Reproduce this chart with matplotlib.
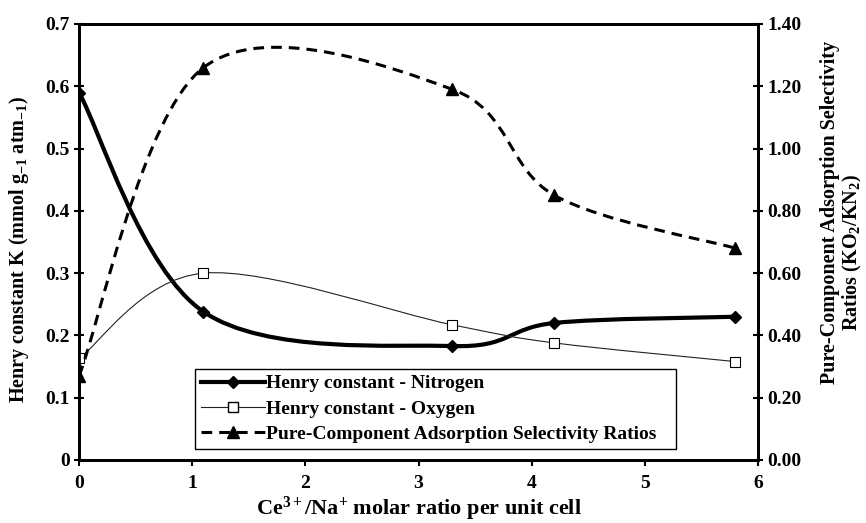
import numpy as np
import matplotlib
matplotlib.use("Agg")
import matplotlib.pyplot as plt
from matplotlib.path import Path
from matplotlib.patches import PathPatch
from matplotlib.lines import Line2D

# ---- data ----
ratio = [0.0, 1.1, 3.3, 4.2, 5.8]
k_nitrogen = [0.59, 0.238, 0.183, 0.220, 0.230]
k_oxygen = [0.163, 0.300, 0.217, 0.188, 0.158]
selectivity = [0.27, 1.26, 1.19, 0.85, 0.68]

left_ticks = [0, 0.1, 0.2, 0.3, 0.4, 0.5, 0.6, 0.7]
right_ticks = [0.0, 0.2, 0.4, 0.6, 0.8, 1.0, 1.2, 1.4]
x_ticks = [0, 1, 2, 3, 4, 5, 6]

plt.rcParams["font.family"] = ["Liberation Serif", "DejaVu Serif"]
plt.rcParams["font.weight"] = "bold"
plt.rcParams["axes.labelweight"] = "bold"
plt.rcParams["mathtext.fontset"] = "custom"
plt.rcParams["mathtext.rm"] = "Liberation Serif:bold"
plt.rcParams["mathtext.it"] = "Liberation Serif:bold"
plt.rcParams["mathtext.bf"] = "Liberation Serif:bold"
plt.rcParams["mathtext.default"] = "rm"


def smooth_patch(ax, x, y, **kw):
    # Excel-like smoothed line: cubic Bezier through the points
    pts = np.column_stack([x, y]).astype(float)
    n = len(pts)
    verts = [tuple(pts[0])]
    codes = [Path.MOVETO]
    for i in range(n - 1):
        p0 = pts[i - 1] if i > 0 else pts[i]
        p1 = pts[i]
        p2 = pts[i + 1]
        p3 = pts[i + 2] if i + 2 < n else pts[i + 1]
        c1 = p1 + (p2 - p0) / 6.0
        c2 = p2 - (p3 - p1) / 6.0
        verts += [tuple(c1), tuple(c2), tuple(p2)]
        codes += [Path.CURVE4] * 3
    patch = PathPatch(Path(verts, codes), fill=False, transform=ax.transData, **kw)
    ax.add_patch(patch)
    return patch


fig = plt.figure(figsize=(8.66, 5.23), dpi=100)
ax = fig.add_axes([79 / 866, 1 - 460 / 523, (758 - 79) / 866, (460 - 24) / 523])
ax2 = ax.twinx()

dash = (0, (3.5, 2.3))
smooth_patch(ax, ratio, k_nitrogen, color="black", lw=3.0, capstyle="round")
ax.plot(ratio, k_nitrogen, "D", color="black", ms=6.5)
smooth_patch(ax, ratio, k_oxygen, color="#222222", lw=0.8)
ax.plot(ratio, k_oxygen, "s", mfc="white", mec="black", mew=0.8, ms=7.5, zorder=5)

smooth_patch(ax2, ratio, selectivity, color="black", lw=2.2, linestyle=dash)
ax2.plot(ratio, selectivity, "^", color="black", ms=8)

ax.set_xlim(0, 6)
ax.set_ylim(0, 0.7)
ax2.set_ylim(0, 1.4)
ax.set_xticks(x_ticks)
ax.set_yticks(left_ticks)
ax.set_yticklabels(["0" if v == 0 else f"{v:.1f}" for v in left_ticks])
ax2.set_yticks(right_ticks)
ax2.set_yticklabels([f"{v:.2f}" for v in right_ticks])

for a in (ax, ax2):
    for s in a.spines.values():
        s.set_linewidth(2.0)
ax.tick_params(axis="y", direction="inout", length=7, width=1.5, labelsize=14, pad=3)
ax.tick_params(axis="x", direction="out", length=4, width=1.5, labelsize=14, pad=7)
ax2.tick_params(axis="y", direction="inout", length=7, width=1.5, labelsize=14, pad=3)

ax.set_xlabel(r"Ce$^{3+}$/Na$^{+}$ molar ratio per unit cell", fontsize=16, labelpad=2)
ax.set_ylabel(r"Henry constant K (mmol g$_{-1}$ atm$_{-1}$)", fontsize=14.5)
ax.yaxis.set_label_coords(-(79 - 31) / 679, (460 - 250) / 436)

# right-hand label, two lines placed as in the reference
fig.text(830 / 866, 1 - 212 / 523, "Pure-Component Adsorption Selectivity",
         rotation=90, ha="center", va="center", fontsize=14.5)
fig.text(852 / 866, 1 - 253 / 523, r"Ratios (KO$_2$/KN$_2$)",
         rotation=90, ha="center", va="center", fontsize=14.5)

handles = [
    Line2D([], [], color="black", lw=3.0, marker="D", ms=6.5),
    Line2D([], [], color="#222222", lw=0.8, marker="s", mfc="white", mec="black", ms=7.5),
    Line2D([], [], color="black", lw=2.2, linestyle=dash, marker="^", ms=8),
]
labels = ["Henry constant - Nitrogen", "Henry constant - Oxygen",
          "Pure-Component Adsorption Selectivity Ratios"]
leg = ax2.legend(handles, labels, loc="lower left",
                 bbox_to_anchor=(195 / 866, 1 - 449 / 523, (676 - 195) / 866, 0.1),
                 bbox_transform=fig.transFigure, mode="expand", fancybox=False,
                 framealpha=1, edgecolor="black", fontsize=14, handlelength=3.3,
                 handletextpad=0.05, borderaxespad=0, labelspacing=0.4, borderpad=0.3)
leg.get_frame().set_linewidth(1.0)

fig.savefig("out.png", dpi=100)
